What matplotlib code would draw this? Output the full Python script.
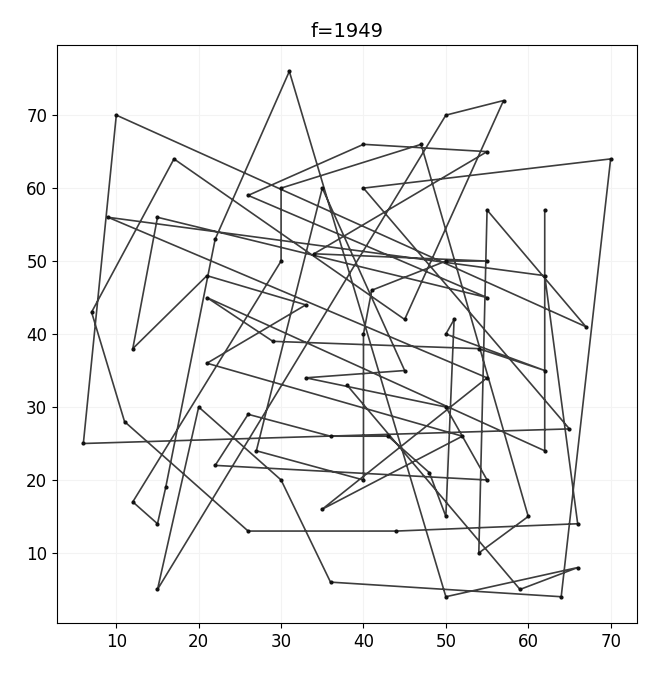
import matplotlib
matplotlib.use("Agg")
import matplotlib.pyplot as plt

# path order
xs = [62, 62, 21, 29, 54, 62, 50, 51, 50, 48, 43, 36, 26, 22, 55, 50, 33, 45, 35, 27,
      40, 40, 41, 50, 55, 34, 55, 40, 26, 55, 15, 12, 21, 33, 21, 52, 35, 55, 9, 62,
      66, 44, 26, 11, 7, 17, 45, 57, 50, 15, 20, 30, 36, 64, 70, 40, 65, 6, 10, 67,
      55, 54, 60, 47, 30, 30, 12, 15, 16, 22, 31, 50, 66, 59, 38]
ys = [57, 24, 45, 39, 38, 35, 40, 42, 15, 21, 26, 26, 29, 22, 20, 30, 34, 35, 60, 24,
      20, 40, 46, 50, 50, 51, 65, 66, 59, 45, 56, 38, 48, 44, 36, 26, 16, 34, 56, 48,
      14, 13, 13, 28, 43, 64, 42, 72, 70, 5, 30, 20, 6, 4, 64, 60, 27, 25, 70, 41,
      57, 10, 15, 66, 60, 50, 17, 14, 19, 53, 76, 4, 8, 5, 33]
title = "f=1949"

fig, ax = plt.subplots(figsize=(6.52, 6.73), dpi=100)
fig.subplots_adjust(left=0.0874, right=0.977, bottom=0.0743, top=0.933)

ax.plot(xs, ys, color="#3d3d3d", lw=1.2, marker="o", ms=2.0,
        mfc="#111111", mec="#111111")
ax.grid(True, color="#f3f3f3", lw=0.8)
ax.set_axisbelow(True)
ax.set_title(title, fontsize=14)
ax.tick_params(labelsize=12)

fig.savefig("out.png")
